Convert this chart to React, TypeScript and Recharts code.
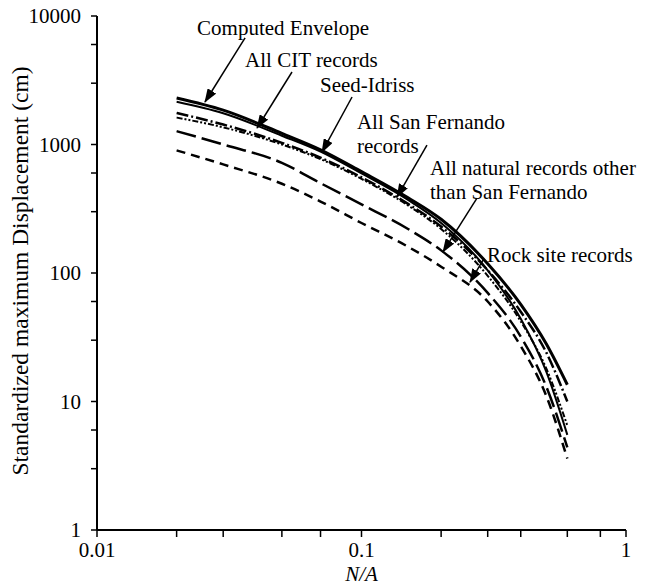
import React from 'react';
import { LineChart, Line, XAxis, YAxis, ReferenceDot } from 'recharts';

// N/A values at which the curves were read
const naValues = [0.02, 0.03, 0.05, 0.07, 0.1, 0.15, 0.2, 0.3, 0.4, 0.5, 0.6];

// standardized maximum displacement (cm)
const envelope = [2300, 1850, 1220, 910, 615, 385, 262, 118, 57, 28, 13.5];
const citRecords = [1760, 1430, 1030, 790, 555, 345, 230, 105, 50, 24, 10];
const seedIdriss = [1620, 1360, 1000, 770, 540, 335, 220, 95, 42, 18, 6.5];
const sanFernando = [2150, 1750, 1170, 880, 595, 370, 245, 105, 44, 17, 5.5];
const naturalRecords = [1270, 1000, 720, 500, 342, 220, 150, 70, 32, 13, 4.4];
const rockRecords = [900, 700, 495, 360, 245, 160, 112, 60, 27, 11, 3.6];

const xTicks = [0.01, 0.02, 0.03, 0.04, 0.05, 0.06, 0.07, 0.08, 0.09, 0.1, 0.2, 0.3, 0.4, 0.5, 0.6, 0.7, 0.8, 0.9, 1];
const yTicks = [1, 2, 3, 4, 5, 6, 7, 8, 9, 10, 20, 30, 40, 50, 60, 70, 80, 90, 100, 200, 300, 400, 500, 600, 700, 800, 900, 1000, 2000, 3000, 4000, 5000, 6000, 7000, 8000, 9000, 10000];
const xMajor = [0.01, 0.1, 1];
const yMajor = [1, 10, 100, 1000, 10000];

// annotation texts, anchored (left edge) in data coordinates
const labels = [
  { text: ['Computed Envelope'], x: 0.0239, y: 8070 },
  { text: ['All CIT records'], x: 0.0363, y: 4546 },
  { text: ['Seed-Idriss'], x: 0.0697, y: 2904 },
  { text: ['All San Fernando', 'records'], x: 0.0961, y: 1497 },
  { text: ['All natural records other', 'than San Fernando'], x: 0.1816, y: 656 },
  { text: ['Rock site records'], x: 0.2982, y: 138 },
];

// arrows from label to curve
const arrows = [
  { x1: 0.0363, y1: 6745, x2: 0.0256, y2: 2142 },
  { x1: 0.0546, y1: 3665, x2: 0.0403, y2: 1344 },
  { x1: 0.0921, y1: 2342, x2: 0.0709, y2: 874 },
  { x1: 0.1768, y1: 991, x2: 0.1362, y2: 390 },
  { x1: 0.2733, y1: 383, x2: 0.2033, y2: 146 },
  { x1: 0.288, y1: 126, x2: 0.2572, y2: 85 },
];

const rows = naValues.map((x, i) => ({
  x,
  envelope: envelope[i],
  cit: citRecords[i],
  seed: seedIdriss[i],
  sf: sanFernando[i],
  natural: naturalRecords[i],
  rock: rockRecords[i],
}));

const textStyle = { fontFamily: 'Liberation Serif, Times New Roman, serif' };

const XTick = (props: any) => {
  const { x, y, payload } = props;
  if (!xMajor.includes(payload.value)) return <g />;
  return (
    <text x={x} y={y + 18} textAnchor="middle" style={textStyle} fontSize={21} fill="#000">
      {String(payload.value)}
    </text>
  );
};

const YTick = (props: any) => {
  const { x, y, payload } = props;
  if (!yMajor.includes(payload.value)) return <g />;
  return (
    <text x={x - 8} y={y} dy={7} textAnchor="end" style={textStyle} fontSize={21} fill="#000">
      {String(payload.value)}
    </text>
  );
};

const App = () => {
  return (
    <div style={{ position: 'absolute', left: 0, top: 0, width: 650, height: 585, background: '#fff' }}>
      <svg width={0} height={0} style={{ position: 'absolute' }}>
        <defs>
          <marker id="arrowHead" markerWidth={14} markerHeight={10} refX={13} refY={5} orient="auto" markerUnits="userSpaceOnUse">
            <path d="M0,0 L14,5 L0,10 z" fill="#000" />
          </marker>
        </defs>
      </svg>
      <LineChart width={650} height={585} data={rows} margin={{ top: 16, right: 24, bottom: 0, left: 0 }}>
        <XAxis
          dataKey="x"
          type="number"
          scale="log"
          domain={[0.01, 1]}
          ticks={xTicks}
          allowDataOverflow
          height={55}
          tick={XTick}
          tickSize={7}
          axisLine={{ stroke: '#000', strokeWidth: 2 }}
          tickLine={{ stroke: '#000', strokeWidth: 1.5 }}
          label={{
            content: (p: any) => {
              const vb = p.viewBox;
              return (
                <text x={vb.x + vb.width / 2} y={vb.y + 51} textAnchor="middle" style={textStyle} fontStyle="italic" fontSize={21} fill="#000">
                  N/A
                </text>
              );
            },
          }}
        />
        <YAxis
          type="number"
          scale="log"
          domain={[1, 10000]}
          ticks={yTicks}
          allowDataOverflow
          width={97}
          tick={YTick}
          tickSize={6}
          axisLine={{ stroke: '#000', strokeWidth: 2 }}
          tickLine={{ stroke: '#000', strokeWidth: 1.5 }}
          label={{
            content: (p: any) => {
              const vb = p.viewBox;
              const cx = 20;
              const cy = vb.y + vb.height / 2 - 2;
              return (
                <text x={cx} y={cy} transform={`rotate(-90 ${cx} ${cy})`} textAnchor="middle" dominantBaseline="central" style={textStyle} fontSize={23.5} fill="#000">
                  Standardized maximum Displacement (cm)
                </text>
              );
            },
          }}
        />
        <Line dataKey="rock" type="monotone" stroke="#000" strokeWidth={2.5} strokeDasharray="9 6" dot={false} isAnimationActive={false} />
        <Line dataKey="natural" type="monotone" stroke="#000" strokeWidth={2.5} strokeDasharray="20 6" dot={false} isAnimationActive={false} />
        <Line dataKey="seed" type="monotone" stroke="#000" strokeWidth={2} strokeDasharray="6 2 2 2 2 2" dot={false} isAnimationActive={false} />
        <Line dataKey="cit" type="monotone" stroke="#000" strokeWidth={2.5} strokeDasharray="12 3 2 3" dot={false} isAnimationActive={false} />
        <Line dataKey="sf" type="monotone" stroke="#000" strokeWidth={2} dot={false} isAnimationActive={false} />
        <Line dataKey="envelope" type="monotone" stroke="#000" strokeWidth={3} dot={false} isAnimationActive={false} />
        {arrows.map((a, i) => (
          <Line
            key={`arrow-${i}`}
            data={[{ x: a.x1, y: a.y1 }, { x: a.x2, y: a.y2 }]}
            dataKey="y"
            type="linear"
            stroke="#000"
            strokeWidth={1.5}
            markerEnd="url(#arrowHead)"
            dot={false}
            activeDot={false}
            isAnimationActive={false}
          />
        ))}
        {labels.map((l, i) => (
          <ReferenceDot
            key={`label-${i}`}
            x={l.x}
            y={l.y}
            r={0}
            shape={(p: any) => (
              <text x={p.cx} y={p.cy} style={textStyle} fontSize={21} fill="#000">
                {l.text.map((t, j) => (
                  <tspan key={j} x={p.cx} dy={j === 0 ? 7 : 24}>
                    {t}
                  </tspan>
                ))}
              </text>
            )}
          />
        ))}
      </LineChart>
    </div>
  );
};

export default App;
